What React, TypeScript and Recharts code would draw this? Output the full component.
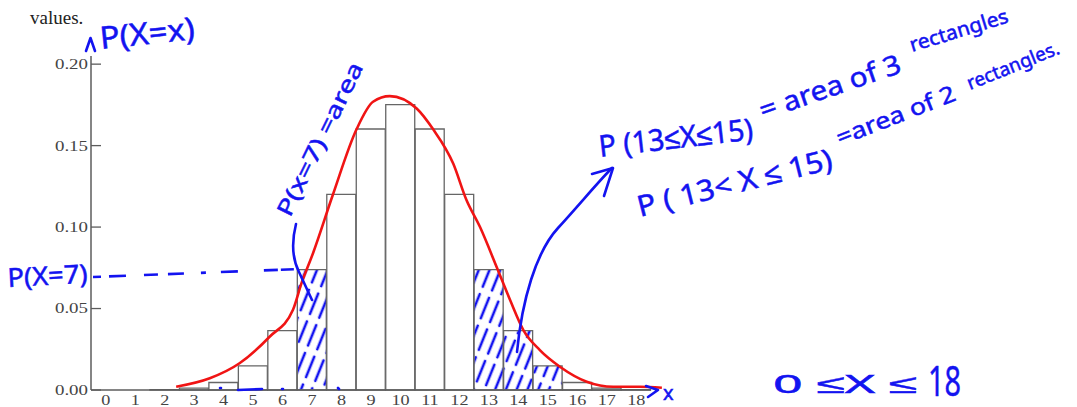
import { Bar, Cell, ComposedChart, Line, XAxis, YAxis } from "recharts"

// P(X = x)
const xValues = [0, 1, 2, 3, 4, 5, 6, 7, 8, 9, 10, 11, 12, 13, 14, 15, 16, 17, 18]
const probabilities = [
  0, 0, 0.0002, 0.0011, 0.0046, 0.0148, 0.0365, 0.0739, 0.1201, 0.1602, 0.1752, 0.1602, 0.1201, 0.0739,
  0.0365, 0.0148, 0.0046, 0.0011, 0.0002,
]
const shadedValues = [7, 13, 14, 15]
const yTicks = [0, 0.05, 0.1, 0.15, 0.2]

// the red freehand curve drawn over the bars
const curveX = [
  2.39, 3.53, 4.54, 5.56, 6.35, 6.64, 7.03, 7.71, 8.51, 9.07, 9.64, 10.55, 11.11, 11.79, 12.24, 12.7, 13.26,
  13.72, 14.17, 14.73, 15.41, 16.32, 17.22, 18.13, 18.87,
]
const curveY = [
  0.002, 0.0072, 0.0164, 0.0327, 0.0491, 0.0654, 0.0838, 0.12, 0.16, 0.1769, 0.1804, 0.1728, 0.16, 0.139,
  0.1166, 0.1, 0.0757, 0.0552, 0.0368, 0.0245, 0.0143, 0.0051, 0.002, 0.002, 0.0014,
]

const BLUE = "#1313f0"
const RED = "#f01414"
const AXIS = "#5c5c5c"
const LABEL = "#444"
const SERIF = "'Liberation Serif', serif"
const HAND = "'Noto Sans', sans-serif"

const bars = xValues.map((x, i) => ({ x: String(x), p: probabilities[i] }))
const curve = curveX.map((cx, i) => ({ cx, cy: curveY[i] }))

function YTick(props: any) {
  const { x, y, payload } = props
  return (
    <g>
      <line x1={x + 3} x2={x + 13} y1={y} y2={y} stroke={AXIS} strokeWidth={1.3} />
      <text
        transform={`translate(${x},${y}) scale(1.35,1)`}
        textAnchor="end"
        dy="0.35em"
        fontFamily={SERIF}
        fontSize={14}
        fill={LABEL}
      >
        {Number(payload.value).toFixed(2)}
      </text>
    </g>
  )
}

function XTick(props: any) {
  const { x, y, payload } = props
  return (
    <text
      transform={`translate(${x},${y}) scale(1.3,1)`}
      textAnchor="middle"
      dy="0.71em"
      fontFamily={SERIF}
      fontSize={14}
      fill={LABEL}
    >
      {payload.value}
    </text>
  )
}

function Hand({
  x,
  y,
  angle = 0,
  size,
  length,
  children,
}: {
  x: number
  y: number
  angle?: number
  size: number
  length?: number
  children: string
}) {
  return (
    <text
      transform={`translate(${x} ${y}) rotate(${angle})`}
      fontFamily={HAND}
      fontSize={size}
      fill={BLUE}
      stroke={BLUE}
      strokeWidth={0.5}
      textLength={length}
      lengthAdjust={length ? "spacingAndGlyphs" : undefined}
    >
      {children}
    </text>
  )
}

function Annotations() {
  const pen = { fill: "none", stroke: BLUE, strokeWidth: 2.6, strokeLinecap: "round" as const, strokeLinejoin: "round" as const }
  return (
    <svg
      width={1077}
      height={407}
      style={{ position: "absolute", left: 0, top: 0, pointerEvents: "none" }}
    >
      <text x={30} y={24} fontFamily={SERIF} fontSize={19} fill="#222">
        values.
      </text>

      {/* y axis label and arrow */}
      <path d="M86,51 L90.5,38 L95,51" {...pen} />
      <Hand x={101} y={49} angle={-6} size={31} length={95}>
        P(X=x)
      </Hand>

      {/* P(X=7) with dashed guide */}
      <Hand x={8} y={287} angle={-3} size={26} length={80}>
        P(X=7)
      </Hand>
      <path d="M93,277 L300,269" {...pen} strokeDasharray="8 8 17 18 14 10 16 17 5 15 17 26 14 3 13" strokeLinecap="butt" />

      {/* P(x=7) = area, rotated, with bracket line */}
      <text
        transform="translate(282 214) rotate(-64)"
        fontFamily={HAND}
        fontSize={22}
        fill={BLUE}
        stroke={BLUE}
        strokeWidth={0.5}
        dominantBaseline="central"
        textLength={168}
        lengthAdjust="spacingAndGlyphs"
      >
        P(x=7) =area
      </text>
      <path d="M296,224 Q289,252 299,272 Q306,287 312,300" {...pen} />

      {/* arrow from tail bars to the statements */}
      <path d="M517,352 C522,300 536,252 558,228 S598,182 612,168" {...pen} />
      <path d="M592,174 L613,168 L604,196" {...pen} />

      <Hand x={600} y={157} angle={-6.5} size={30} length={155}>
        P (13≤X≤15)
      </Hand>
      <Hand x={763} y={120} angle={-19} size={27} length={148}>
        = area of 3
      </Hand>
      <Hand x={912} y={52} angle={-17} size={20} length={102}>
        rectangles
      </Hand>

      <Hand x={640} y={217} angle={-14} size={29} length={200}>
        P ( 13&lt; X ≤ 15)
      </Hand>
      <Hand x={840} y={146} angle={-21.5} size={23} length={126}>
        =area of 2
      </Hand>
      <Hand x={970} y={90} angle={-22} size={19} length={98}>
        rectangles.
      </Hand>

      {/* 0 <= X <= 18 */}
      <Hand x={773} y={393} size={26} length={144}>
        0 ≤X ≤
      </Hand>
      <Hand x={928} y={396} size={42} length={33}>
        18
      </Hand>

      {/* x axis arrow and label */}
      <path d="M646,386 L658,390 L648,397" {...pen} />
      <Hand x={663} y={400} size={20}>
        x
      </Hand>

      {/* small pen marks along the baseline */}
      <path d="M220,388 l1,0 M238,390 L262,389 M282,389 l1,0 M338,388 l1,1" {...pen} />
    </svg>
  )
}

export default function App() {
  return (
    <div style={{ position: "absolute", left: 0, top: 0, width: 1077, height: 407, background: "#fff" }}>
      <svg width={0} height={0} style={{ position: "absolute" }}>
        <defs>
          <pattern
            id="hatch"
            patternUnits="userSpaceOnUse"
            width={10}
            height={30}
            patternTransform="rotate(22)"
          >
            <rect width={10} height={30} fill="#fff" />
            <line x1={5} y1={3} x2={5} y2={25} stroke={BLUE} strokeWidth={2.6} strokeLinecap="round" />
          </pattern>
        </defs>
      </svg>
      <ComposedChart
        width={1077}
        height={407}
        data={bars}
        margin={{ top: 56, right: 426, bottom: 0, left: 0 }}
        barCategoryGap={0}
        barGap={0}
      >
        <XAxis
          xAxisId="cat"
          dataKey="x"
          type="category"
          height={17}
          interval={0}
          axisLine={{ stroke: AXIS, strokeWidth: 1.5 }}
          tickLine={false}
          tickSize={0}
          tickMargin={5}
          tick={<XTick />}
        />
        <XAxis
          xAxisId="curve"
          dataKey="cx"
          type="number"
          domain={[-0.5, 19]}
          padding={{ left: 0, right: -14.7 }}
          hide
        />
        <YAxis
          width={91}
          type="number"
          domain={[0, 0.205]}
          ticks={yTicks}
          axisLine={{ stroke: AXIS, strokeWidth: 1.5 }}
          tickLine={false}
          tickSize={0}
          tickMargin={3}
          tick={<YTick />}
        />
        <Bar xAxisId="cat" dataKey="p" stroke="#666" strokeWidth={1.3} fill="#fff" isAnimationActive={false}>
          {xValues.map((x) => (
            <Cell key={x} fill={shadedValues.includes(x) ? "url(#hatch)" : "#fff"} />
          ))}
        </Bar>
        <Line
          xAxisId="curve"
          data={curve}
          dataKey="cy"
          type="monotone"
          stroke={RED}
          strokeWidth={2.6}
          dot={false}
          isAnimationActive={false}
        />
      </ComposedChart>
      <Annotations />
    </div>
  )
}
